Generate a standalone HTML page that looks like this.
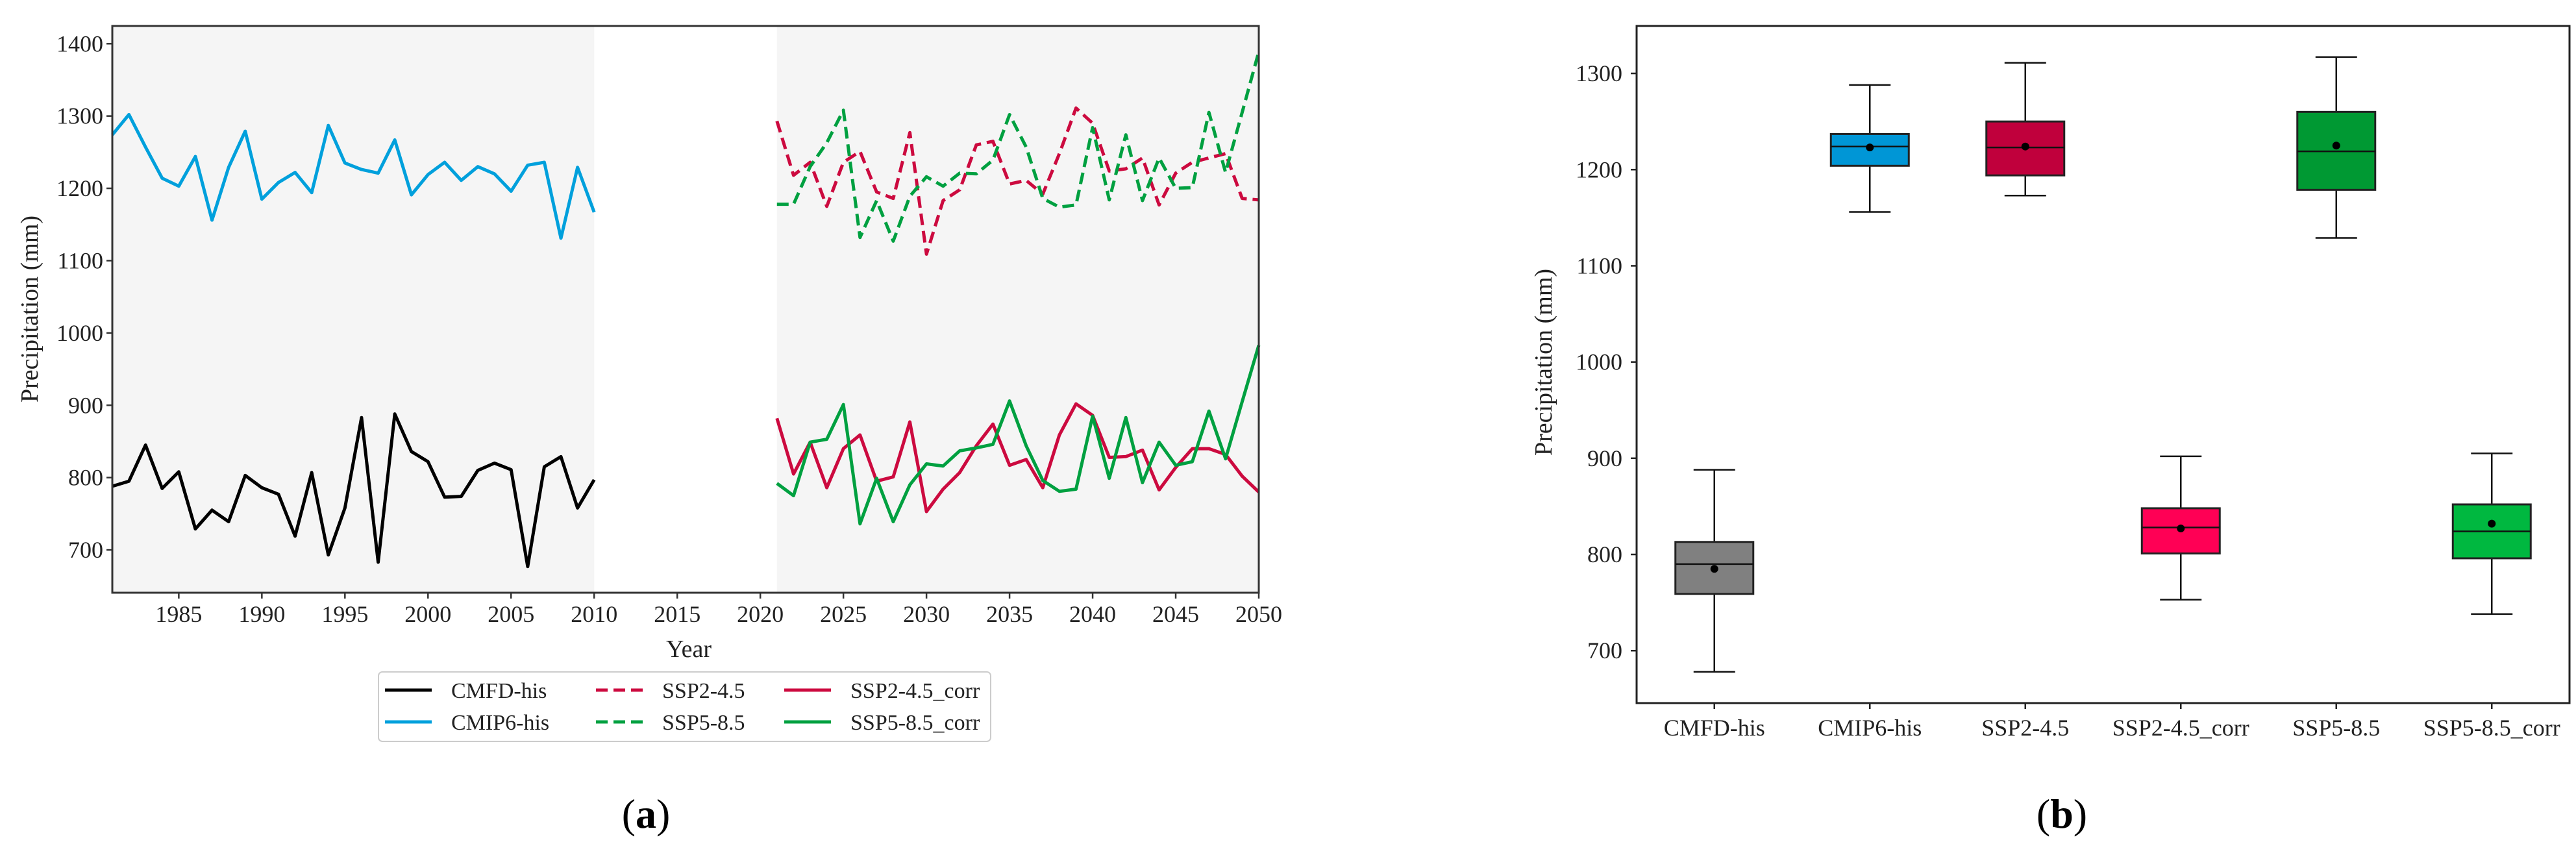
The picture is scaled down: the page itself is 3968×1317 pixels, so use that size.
<!DOCTYPE html>
<html><head><meta charset="utf-8"><style>
html,body{margin:0;padding:0;background:#fff;}
svg{display:block;font-family:"Liberation Serif",serif;}
</style></head><body>
<svg id="svg" width="3968" height="1317" viewBox="0 0 3968 1317" xmlns="http://www.w3.org/2000/svg"></svg>
<script>
// ---- Chart (a) data ----
const histYears = [1981,1982,1983,1984,1985,1986,1987,1988,1989,1990,1991,1992,1993,1994,1995,1996,1997,1998,1999,2000,2001,2002,2003,2004,2005,2006,2007,2008,2009,2010];
const futYears = [2021,2022,2023,2024,2025,2026,2027,2028,2029,2030,2031,2032,2033,2034,2035,2036,2037,2038,2039,2040,2041,2042,2043,2044,2045,2046,2047,2048,2049,2050];
const cmfdHis = [788,795,845,785,808,729,755,739,803,786,777,719,807,693,758,883,683,888,836,822,773,774,810,820,811,677,815,829,758,797];
const cmip6His = [1274,1302,1257,1214,1203,1244,1156,1229,1279,1185,1208,1222,1194,1287,1235,1226,1221,1267,1191,1219,1236,1211,1230,1220,1196,1232,1236,1131,1229,1167];
const ssp245 = [1293,1218,1236,1175,1236,1251,1195,1186,1277,1109,1183,1198,1260,1265,1206,1211,1192,1248,1311,1290,1224,1227,1242,1177,1221,1236,1242,1248,1186,1184];
const ssp585 = [1178,1178,1230,1263,1308,1132,1183,1127,1189,1216,1203,1221,1220,1239,1302,1257,1186,1174,1177,1284,1184,1274,1183,1242,1200,1201,1305,1222,1305,1389];
const ssp245corr = [882,805,849,786,840,859,795,801,877,753,784,807,844,874,817,825,786,859,902,886,828,829,838,783,814,840,840,832,802,780];
const ssp585corr = [792,775,849,853,901,736,799,739,790,819,816,837,841,846,906,844,796,781,784,885,799,883,793,849,817,822,892,826,905,983];
const yTicksA = [700,800,900,1000,1100,1200,1300,1400];
const xTicksA = [1985,1990,1995,2000,2005,2010,2015,2020,2025,2030,2035,2040,2045,2050];

// ---- Chart (b) data ----
const boxCats = ["CMFD-his","CMIP6-his","SSP2-4.5","SSP2-4.5_corr","SSP5-8.5","SSP5-8.5_corr"];
const boxLow = [678,1156,1173,753,1129,738];
const boxQ1 = [759,1204,1194,801,1179,796];
const boxMed = [790,1224,1223,828,1219,824];
const boxMean = [785,1223,1224,827,1225,832];
const boxQ3 = [813,1237,1250,848,1260,852];
const boxHigh = [888,1288,1311,902,1317,905];
const yTicksB = [700,800,900,1000,1100,1200,1300];

const NS="http://www.w3.org/2000/svg";
const svg=document.getElementById('svg');
function mk(tag,attrs,parent,text){const e=document.createElementNS(NS,tag);for(const k in attrs)e.setAttribute(k,attrs[k]);if(text!==undefined)e.textContent=text;(parent||svg).appendChild(e);return e;}

// ===== Chart A =====
const A={l:173,r:1939,t:40,b:913,x0:1981,x1:2050,y0:640.8,y1:1424.5};
const xA=v=>A.l+(v-A.x0)/(A.x1-A.x0)*(A.r-A.l);
const yA=v=>A.b-(v-A.y0)/(A.y1-A.y0)*(A.b-A.t);
const gA=mk('g',{});


let r1=mk('rect',{x:xA(1981),y:A.t,width:xA(2010)-xA(1981),height:A.b-A.t,fill:'#f5f5f5'},gA);


let r2=mk('rect',{x:xA(2021),y:A.t,width:xA(2050)-xA(2021),height:A.b-A.t,fill:'#f5f5f5'},gA);


function series(xs,ys,color,dash,name){
  const p=mk('polyline',{points:xs.map((x,i)=>xA(x)+','+yA(ys[i])).join(' '),fill:'none',stroke:color,'stroke-width':5,'stroke-linejoin':'round','stroke-dasharray':dash||'none'},gA);
  
  
}
const cBlue='#00a0dc',cRed='#cc0a3f',cGreen='#00a040';
series(histYears,cmfdHis,'#000',null,'cmfd-his-line');
series(histYears,cmip6His,cBlue,null,'cmip6-his-line');
series(futYears,ssp245,cRed,'18,9','ssp2-4.5-line');
series(futYears,ssp585,cGreen,'18,9','ssp5-8.5-line');
series(futYears,ssp245corr,cRed,null,'ssp2-4.5-corr-line');
series(futYears,ssp585corr,cGreen,null,'ssp5-8.5-corr-line');
let fa=mk('rect',{x:A.l,y:A.t,width:A.r-A.l,height:A.b-A.t,fill:'none',stroke:'#333','stroke-width':3},gA);


yTicksA.forEach(v=>{
  mk('line',{x1:A.l-9,x2:A.l,y1:yA(v),y2:yA(v),stroke:'#333','stroke-width':2.5},gA);
  const t=mk('text',{x:A.l-14,y:yA(v)+12,'text-anchor':'end','font-size':36,fill:'#222'},gA,String(v));
  
  
});
xTicksA.forEach(v=>{
  mk('line',{x1:xA(v),x2:xA(v),y1:A.b,y2:A.b+9,stroke:'#333','stroke-width':2.5},gA);
  const t=mk('text',{x:xA(v),y:958,'text-anchor':'middle','font-size':36,fill:'#222'},gA,String(v));
  
  
});
let xt=mk('text',{x:1061,y:1012,'text-anchor':'middle','font-size':38,fill:'#222'},gA,'Year');


let yt=mk('text',{x:0,y:0,transform:'translate(58,476) rotate(-90)','text-anchor':'middle','font-size':38,fill:'#222'},gA,'Precipitation (mm)');


// legend
const lg=mk('g',{},gA);


mk('rect',{x:583,y:1035,width:943,height:107,rx:6,fill:'#fff',stroke:'#ccc','stroke-width':2},lg);
const legItems=[["CMFD-his",'#000',null,593,1063],["CMIP6-his",cBlue,null,593,1112],["SSP2-4.5",cRed,'18,9',918,1063],["SSP5-8.5",cGreen,'18,9',918,1112],["SSP2-4.5_corr",cRed,null,1208,1063],["SSP5-8.5_corr",cGreen,null,1208,1112]];
legItems.forEach(it=>{
  const g=mk('g',{},lg);
  
  
  mk('line',{x1:it[3],x2:it[3]+72,y1:it[4],y2:it[4],stroke:it[1],'stroke-width':5,'stroke-dasharray':it[2]||'none'},g);
  mk('text',{x:it[3]+102,y:it[4]+12,'font-size':34,fill:'#222'},g,it[0]);
});
let la=mk('text',{x:995,y:1275,'text-anchor':'middle','font-size':64,fill:'#000'},svg);


la.innerHTML='(<tspan font-weight="bold">a</tspan>)';

// ===== Chart B =====
const B={l:2521,r:3958,t:40,b:1083,y0:645.5,y1:1349.3};
const bw=(B.r-B.l)/boxCats.length;
const xB=i=>B.l+(i+0.5)*bw;
const yB=v=>B.b-(v-B.y0)/(B.y1-B.y0)*(B.b-B.t);
const boxFill=['#808080','#0096d6','#c0003c','#ff0055','#009933','#00b840'];
const gB=mk('g',{});


let fb=mk('rect',{x:B.l,y:B.t,width:B.r-B.l,height:B.b-B.t,fill:'#fff',stroke:'#222','stroke-width':3},gB);


boxCats.forEach((c,i)=>{
  const g=mk('g',{},gB);
  
  
  const cx=xB(i),hw=60,cw=32;
  mk('line',{x1:cx,x2:cx,y1:yB(boxHigh[i]),y2:yB(boxQ3[i]),stroke:'#111','stroke-width':2.5},g);
  mk('line',{x1:cx,x2:cx,y1:yB(boxQ1[i]),y2:yB(boxLow[i]),stroke:'#111','stroke-width':2.5},g);
  mk('line',{x1:cx-cw,x2:cx+cw,y1:yB(boxHigh[i]),y2:yB(boxHigh[i]),stroke:'#111','stroke-width':2.5},g);
  mk('line',{x1:cx-cw,x2:cx+cw,y1:yB(boxLow[i]),y2:yB(boxLow[i]),stroke:'#111','stroke-width':2.5},g);
  mk('rect',{x:cx-hw,y:yB(boxQ3[i]),width:2*hw,height:yB(boxQ1[i])-yB(boxQ3[i]),fill:boxFill[i],stroke:'#222','stroke-width':3},g);
  mk('line',{x1:cx-hw,x2:cx+hw,y1:yB(boxMed[i]),y2:yB(boxMed[i]),stroke:'#111','stroke-width':2.5},g);
  mk('circle',{cx:cx,cy:yB(boxMean[i]),r:6,fill:'#000'},g);
  mk('line',{x1:cx,x2:cx,y1:B.b,y2:B.b+9,stroke:'#222','stroke-width':2.5},gB);
  const t=mk('text',{x:cx,y:1133,'text-anchor':'middle','font-size':36,fill:'#222'},gB,c);
  
  
});
yTicksB.forEach(v=>{
  mk('line',{x1:B.l-9,x2:B.l,y1:yB(v),y2:yB(v),stroke:'#222','stroke-width':2.5},gB);
  const t=mk('text',{x:B.l-22,y:yB(v)+12,'text-anchor':'end','font-size':36,fill:'#222'},gB,String(v));
  
  
});
let ytb=mk('text',{x:0,y:0,transform:'translate(2390,558) rotate(-90)','text-anchor':'middle','font-size':38,fill:'#222'},gB,'Precipitation (mm)');


let lb=mk('text',{x:3176,y:1275,'text-anchor':'middle','font-size':64,fill:'#000'},svg);


lb.innerHTML='(<tspan font-weight="bold">b</tspan>)';
</script>
</body></html>
